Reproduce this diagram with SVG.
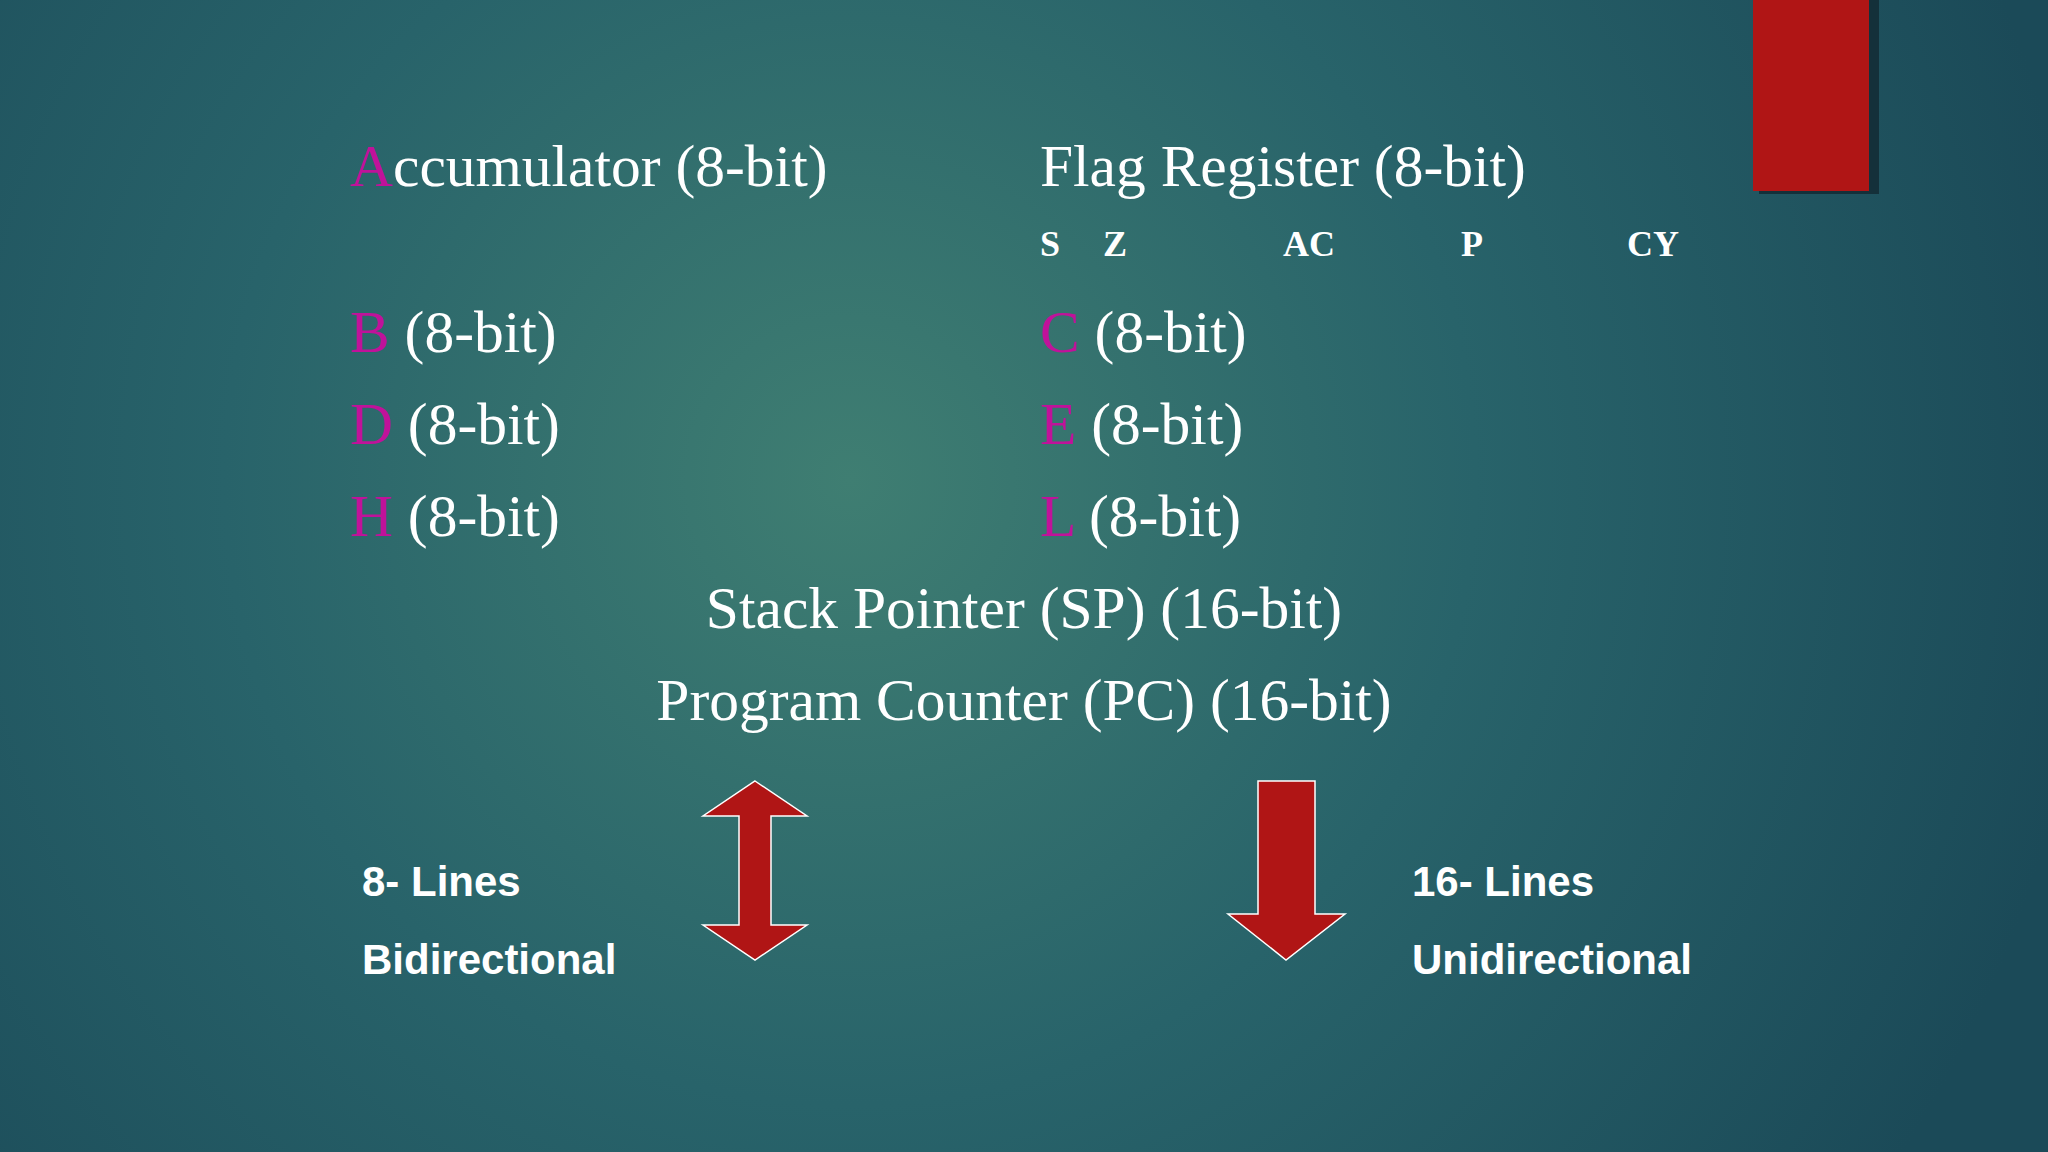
<svg xmlns="http://www.w3.org/2000/svg" width="2048" height="1152" viewBox="0 0 2048 1152">
<defs>
<radialGradient id="bg" cx="850" cy="480" r="1250" gradientUnits="userSpaceOnUse">
<stop offset="0" stop-color="#3f7e72"/>
<stop offset="0.5" stop-color="#28636a"/>
<stop offset="1" stop-color="#1b4a58"/>
</radialGradient>
<style>
.reg{font-family:"Liberation Serif",serif;font-size:59.5px;fill:#ffffff}
.m{fill:#c0129a}
.flag{font-family:"Liberation Serif",serif;font-size:36px;font-weight:bold;fill:#ffffff}
.lbl{font-family:"Liberation Sans",Arial,sans-serif;font-size:42px;font-weight:bold;fill:#ffffff}
.arr{fill:#b01515;stroke:#ffffff;stroke-width:1.5}
</style>
</defs>
<rect width="2048" height="1152" fill="url(#bg)"/>
<rect x="1759" y="0" width="120" height="194" fill="#14303a"/>
<rect x="1753" y="0" width="116" height="191" fill="#b01515"/>
<g id="acc"><text class="reg" x="350" y="186"><tspan class="m">A</tspan>ccumulator (8-bit)</text></g>
<g id="flag"><text class="reg" x="1040" y="186">Flag Register (8-bit)</text>
<text class="flag" x="1040" y="256">S</text><text class="flag" x="1103" y="256">Z</text><text class="flag" x="1283" y="256">AC</text><text class="flag" x="1461" y="256">P</text><text class="flag" x="1627" y="256">CY</text></g>
<g id="b"><text class="reg" x="350" y="352"><tspan class="m">B</tspan> (8-bit)</text></g>
<g id="c"><text class="reg" x="1040" y="352"><tspan class="m">C</tspan> (8-bit)</text></g>
<g id="d"><text class="reg" x="350" y="444"><tspan class="m">D</tspan> (8-bit)</text></g>
<g id="e"><text class="reg" x="1040" y="444"><tspan class="m">E</tspan> (8-bit)</text></g>
<g id="h"><text class="reg" x="350" y="536"><tspan class="m">H</tspan> (8-bit)</text></g>
<g id="l"><text class="reg" x="1040" y="536"><tspan class="m">L</tspan> (8-bit)</text></g>
<g id="sp"><text class="reg" x="1024" y="628" text-anchor="middle">Stack Pointer (SP) (16-bit)</text></g>
<g id="pc"><text class="reg" x="1024" y="720" text-anchor="middle">Program Counter (PC) (16-bit)</text></g>
<g id="connectors">
<polygon class="arr" points="755,781 807,816 771,816 771,925 807,925 755,960 703,925 739,925 739,816 703,816"/>
<polygon class="arr" points="1258,781 1315,781 1315,914 1345,914 1286,960 1228,914 1258,914"/>
</g>
<g id="left"><text class="lbl" x="362" y="896">8- Lines</text><text class="lbl" x="362" y="974">Bidirectional</text></g>
<g id="right"><text class="lbl" x="1412" y="896">16- Lines</text><text class="lbl" x="1412" y="974">Unidirectional</text></g>
</svg>
